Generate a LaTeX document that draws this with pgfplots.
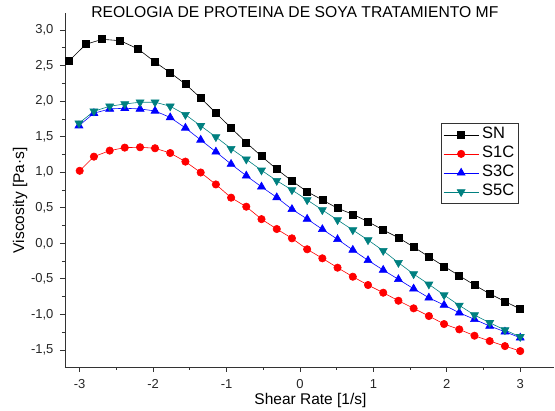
\documentclass[border=0pt]{standalone}
\usepackage{pgfplots}
\pgfplotsset{compat=1.18}
\usepackage{fontspec}
\setmainfont{Liberation Sans}
\definecolor{sTeal}{RGB}{0,128,128}
\begin{document}
\begin{tikzpicture}[x=1pt,y=1pt]
\useasboundingbox (0,0) rectangle (555,411);
\begin{axis}[
  at={(65pt,44pt)}, anchor=south west,
  scale only axis, width=489pt, height=354pt,
  xmin=-3.2, xmax=3.46, ymin=-1.74, ymax=3.24,
  clip=false,
  axis x line=bottom, axis y line=left,
  axis line style={-, line width=0.8pt, black!80},
  tick align=outside,
  major tick length=5pt, minor tick length=3pt,
  every tick/.style={black!80, line width=0.7pt},
  xtick={-3,-2,-1,0,1,2,3},
  ytick={-1.5,-1,-0.5,0,0.5,1,1.5,2,2.5,3},
  minor x tick num=1, minor y tick num=1,
  /pgf/number format/assume math mode=true,
  /pgf/number format/use comma,
  yticklabel style={/pgf/number format/fixed, /pgf/number format/fixed zerofill, /pgf/number format/precision=1, xshift=-3pt},
  xticklabel style={/pgf/number format/fixed, yshift=-4pt},
  ticklabel style={font=\fontsize{13}{15}\selectfont, black!85},
  xlabel={Shear Rate [1/s]},
  ylabel={Viscosity [Pa·s]},
  xlabel style={at={(axis description cs:0.502,-0.106)}, anchor=base, font=\fontsize{15.5}{18}\selectfont},
  ylabel style={at={(axis description cs:-0.0838,0.471)}, anchor=base, font=\fontsize{15.5}{18}\selectfont},
  title={REOLOGIA DE PROTEINA DE SOYA TRATAMIENTO MF},
  title style={at={(axis description cs:0.47,0.971)}, anchor=base, yshift=0pt, font=\fontsize{15.7}{18}\selectfont},
  legend style={at={(axis description cs:0.769,0.689)}, anchor=north west, draw=black!80, line width=0.6pt,
    inner sep=2pt, row sep=0pt, legend cell align=left,
    nodes={font=\fontsize{16.5}{19}\selectfont, inner sep=1.75pt, text height=11.5pt, text depth=4pt},
    /tikz/every odd column/.append style={column sep=1.5pt}},
  legend image code/.code={\draw[mark repeat=2,mark phase=2] plot coordinates {(0pt,0pt) (17.5pt,0pt) (35pt,0pt)};},
  every axis plot/.append style={line width=0.6pt},
]
\addplot[black, mark=square*, mark size=3.5pt, mark options={fill=black}] coordinates {
(-3.15,2.562)(-2.915,2.80)(-2.692,2.87)(-2.447,2.85)(-2.206,2.735)
(-1.974,2.55)(-1.767,2.40)(-1.560,2.24)(-1.352,2.045)(-1.145,1.834)
(-0.938,1.623)(-0.731,1.416)(-0.524,1.225)(-0.316,1.042)(-0.109,0.877)
(0.098,0.726)(0.305,0.61)(0.512,0.493)(0.720,0.408)(0.927,0.304)
(1.134,0.187)(1.341,0.079)(1.548,-0.052)(1.756,-0.189)(1.963,-0.324)
(2.170,-0.456)(2.377,-0.587)(2.584,-0.71)(2.792,-0.818)(3.0,-0.925)};
\addlegendentry{SN}
\addplot[red, mark=*, mark size=3.7pt, mark options={fill=red}] coordinates {
(-3.0,1.02)(-2.806,1.219)(-2.591,1.304)(-2.386,1.346)(-2.178,1.351)
(-1.974,1.337)(-1.767,1.27)(-1.560,1.149)(-1.352,0.996)(-1.145,0.828)
(-0.938,0.642)(-0.731,0.515)(-0.524,0.34)(-0.316,0.201)(-0.109,0.07)
(0.098,-0.084)(0.305,-0.211)(0.512,-0.343)(0.720,-0.47)(0.927,-0.587)
(1.134,-0.695)(1.341,-0.808)(1.548,-0.915)(1.756,-1.023)(1.963,-1.136)
(2.170,-1.211)(2.377,-1.30)(2.584,-1.375)(2.792,-1.446)(3.0,-1.516)};
\addlegendentry{S1C}
\addplot[blue, mark=triangle*, mark size=4.6pt, mark options={fill=blue}] coordinates {
(-3.01,1.655)(-2.806,1.83)(-2.591,1.89)(-2.386,1.90)(-2.178,1.89)
(-1.974,1.862)(-1.767,1.77)(-1.560,1.623)(-1.352,1.454)(-1.145,1.287)
(-0.938,1.114)(-0.731,0.95)(-0.524,0.795)(-0.316,0.645)(-0.109,0.479)
(0.098,0.342)(0.305,0.197)(0.512,0.056)(0.720,-0.094)(0.927,-0.24)
(1.134,-0.376)(1.341,-0.507)(1.548,-0.639)(1.756,-0.766)(1.963,-0.869)
(2.170,-0.977)(2.377,-1.07)(2.584,-1.164)(2.792,-1.244)(3.0,-1.329)};
\addlegendentry{S3C}
\addplot[sTeal, mark=triangle*, mark size=4.6pt, mark options={fill=sTeal, rotate=180}] coordinates {
(-3.01,1.689)(-2.806,1.858)(-2.591,1.928)(-2.386,1.96)(-2.178,1.985)
(-1.974,1.985)(-1.767,1.928)(-1.560,1.81)(-1.352,1.653)(-1.145,1.496)
(-0.938,1.332)(-0.731,1.182)(-0.524,1.027)(-0.316,0.881)(-0.109,0.75)
(0.098,0.61)(0.305,0.469)(0.512,0.328)(0.720,0.187)(0.927,0.046)
(1.134,-0.104)(1.341,-0.273)(1.548,-0.432)(1.756,-0.577)(1.963,-0.728)
(2.170,-0.873)(2.377,-1.009)(2.584,-1.118)(2.792,-1.22)(3.0,-1.315)};
\addlegendentry{S5C}
\end{axis}
\end{tikzpicture}
\end{document}
